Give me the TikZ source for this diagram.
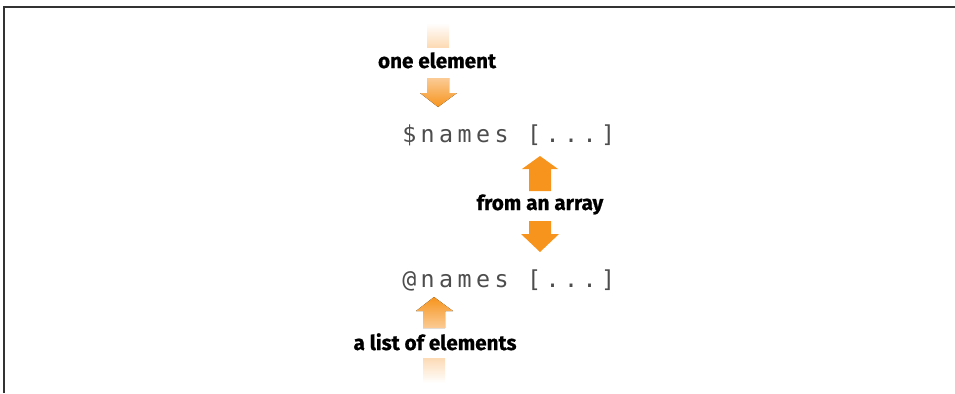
\documentclass[tikz,border=0pt]{standalone}
\usepackage{fontspec}
\setmainfont{Fira Sans}[BoldFeatures={FakeBold=0.8}]
\newfontfamily\codefont[LetterSpace=19]{DejaVu Sans Mono}
\definecolor{arroworange}{HTML}{F7941D}
\definecolor{palearrow}{HTML}{FBCB95}
\definecolor{codegray}{HTML}{4D4D4D}
\definecolor{framegray}{HTML}{333333}
\tikzset{
	tag/.style={font=\bfseries\fontsize{15.5}{18}\selectfont, text=black, inner sep=0pt},
	code/.style={font=\codefont\fontsize{17.5}{20}\selectfont, text=codegray, inner sep=0pt},
}
\begin{document}
\begin{tikzpicture}[x=0.75pt,y=-0.75pt]
		\useasboundingbox (0,0) rectangle (955,393);
		% frame
		\draw[framegray, line width=1.5pt] (4,393) -- (4,7) -- (955,7);
		% faded stubs
		\fill[top color=white, bottom color=palearrow!70] (427,23) rectangle (449,47);
		\fill[top color=palearrow!70, bottom color=white] (423,358) rectangle (445,383);
		% block arrows
		\fill[top color=palearrow, bottom color=arroworange] (427,78) -- (449,78) -- (449,93) -- (457,93) -- (438,107) -- (420,93) -- (427,93) -- cycle;
		\fill[arroworange] (540,156) -- (558,169) -- (551,169) -- (551,191) -- (529,191) -- (529,169) -- (522,169) -- cycle;
		\fill[arroworange] (529,221) -- (551,221) -- (551,234) -- (559,234) -- (540,252) -- (521,234) -- (529,234) -- cycle;
		\fill[top color=arroworange, bottom color=palearrow] (434,297) -- (453,311) -- (445,311) -- (445,328) -- (423,328) -- (423,311) -- (416,311) -- cycle;
		% texts
		\node[tag, anchor=base] (one) at (437,68) {one element};
		\node[code, anchor=base west] (scalar) at (402,142) {\$names [...]};
		\node[tag, anchor=base] (array) at (540,210) {from an array};
		\node[code, anchor=base west] (list) at (402,287) {@names [...]};
		\node[tag, anchor=base] (elems) at (435,350) {a list of elements};
	\end{tikzpicture}
\end{document}
